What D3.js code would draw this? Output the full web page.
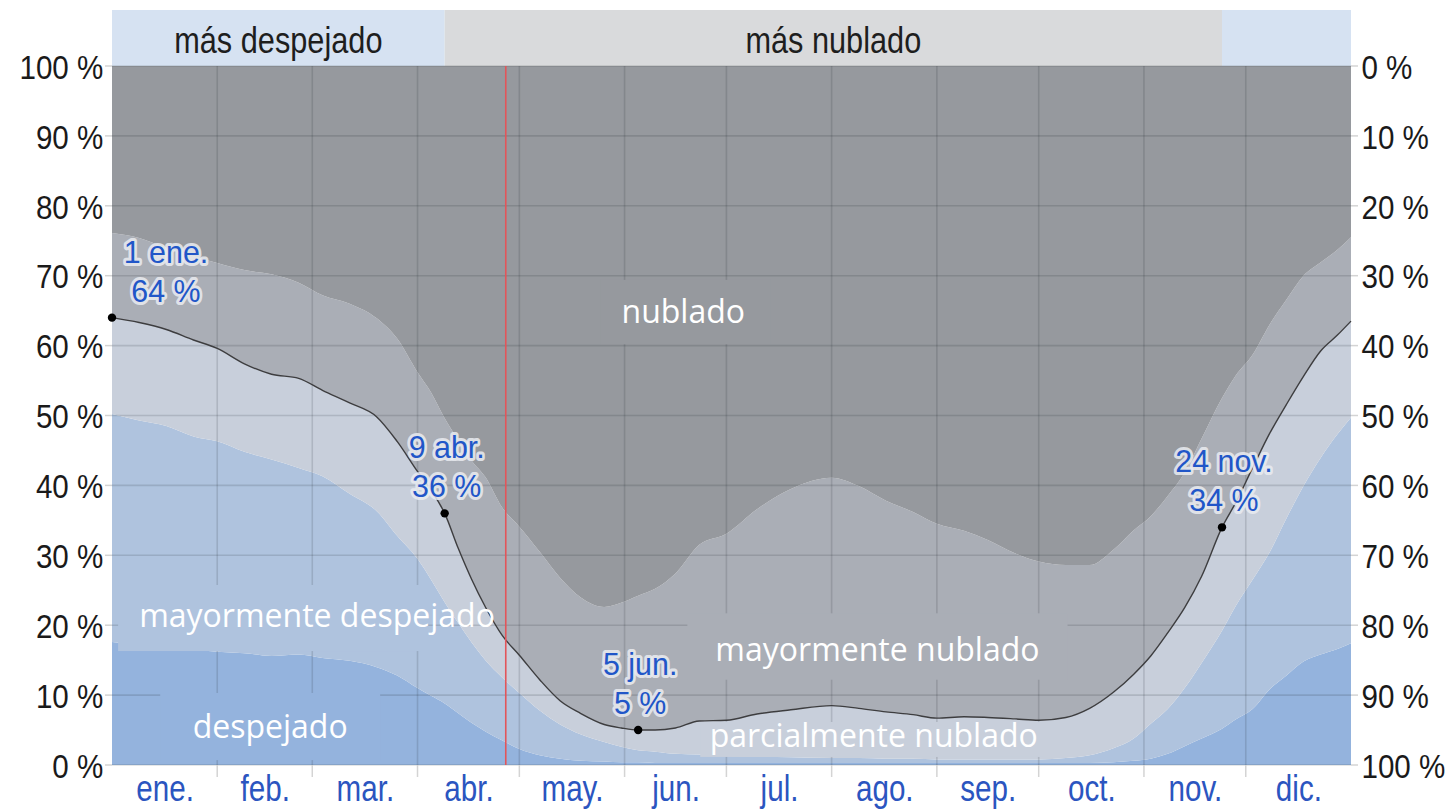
<!DOCTYPE html>
<html lang="es">
<head>
<meta charset="utf-8">
<script src="https://cdn.jsdelivr.net/npm/d3@7"></script>
<style>
  html, body { margin: 0; padding: 0; background: #ffffff; }
  svg { display: block; }
</style>
</head>
<body>
<svg id="chart" width="1451" height="810"></svg>
<script>
// Day of year (0 = 1 Jan, 365 = end of 31 Dec) for each sample
const days = [0, 8, 16, 24, 31, 39, 47, 55, 62, 70,
  78, 84, 90, 94, 98, 102, 106, 110, 115, 120,
  126, 132, 138, 145, 150, 155, 160, 166, 173, 181,
  190, 200, 212, 220, 228, 236, 243, 251, 258, 266,
  273, 281, 288, 295, 301, 306, 311, 316, 321, 327,
  331, 336, 341, 346, 351, 356, 361, 365];

// Cumulative share of time (%) with the sky at most in each category
const despejado = [17.6, 17.2, 16.8, 16.5, 16.2, 16.0, 15.6, 15.8, 15.3, 14.9,
  14.0, 12.8, 11.0, 9.9, 8.8, 7.4, 6.0, 4.8, 3.5, 2.3,
  1.4, 0.9, 0.6, 0.5, 0.4, 0.4, 0.3, 0.3, 0.3, 0.3,
  0.3, 0.3, 0.3, 0.3, 0.3, 0.3, 0.3, 0.3, 0.3, 0.3,
  0.3, 0.3, 0.3, 0.4, 0.6, 0.9, 1.6, 2.7, 3.8, 5.2,
  6.5, 8.0, 10.8, 12.8, 14.8, 15.8, 16.6, 17.4];

const hastaMayormenteDespejado = [50.2, 49.3, 48.5, 47.0, 46.3, 44.8, 43.7, 42.5, 41.3, 38.8,
  36.3, 32.8, 29.5, 26.5, 23.3, 20.3, 17.5, 15.0, 12.5, 10.3,
  7.8, 5.8, 4.4, 3.3, 2.6, 2.1, 1.9, 1.6, 1.5, 1.3,
  1.2, 1.1, 1.0, 1.0, 0.9, 0.9, 0.8, 0.8, 0.8, 0.8,
  0.8, 1.0, 1.4, 2.4, 3.8, 5.9, 8.0, 11.0, 14.6, 19.2,
  22.7, 26.5, 30.4, 35.3, 39.9, 43.9, 47.3, 49.7];

const hastaParcialmenteNublado = [64.0, 63.3, 62.3, 60.8, 59.6, 57.4, 55.9, 55.3, 53.6, 51.8,
  49.8, 46.3, 42.0, 39.3, 36.0, 31.0, 26.5, 22.6, 18.5, 15.7,
  12.2, 9.2, 7.4, 5.8, 5.3, 5.0, 5.0, 5.3, 6.3, 6.4,
  7.3, 7.9, 8.5, 8.1, 7.6, 7.2, 6.7, 6.9, 6.8, 6.6,
  6.4, 6.8, 8.1, 10.4, 13.0, 15.6, 18.9, 22.5, 27.0, 34.0,
  37.5, 42.5, 47.4, 51.6, 55.6, 59.2, 61.5, 63.5];

const hastaMayormenteNublado = [76.1, 75.4, 74.0, 72.8, 71.8, 70.8, 70.2, 69.0, 67.2, 66.0,
  63.9, 61.0, 56.2, 53.3, 49.6, 46.5, 43.5, 41.2, 36.8, 34.1,
  30.5, 26.8, 24.0, 22.6, 23.2, 24.2, 25.2, 27.4, 31.5, 33.1,
  36.6, 39.5, 41.1, 39.9, 37.8, 36.2, 34.5, 33.5, 32.2, 30.3,
  29.1, 28.6, 28.6, 30.8, 33.6, 35.6, 38.5, 41.8, 46.7, 52.5,
  55.7, 58.7, 63.0, 66.6, 70.0, 71.9, 73.7, 75.5];

const monthLabels = ["ene.", "feb.", "mar.", "abr.", "may.", "jun.",
  "jul.", "ago.", "sep.", "oct.", "nov.", "dic."];
const monthStarts = [0, 31, 59, 90, 120, 151, 181, 212, 243, 273, 304, 334, 365];
const yTicks = [0, 10, 20, 30, 40, 50, 60, 70, 80, 90, 100];

const periods = [
  { from: 0, to: 98, label: "más despejado", kind: "clear" },
  { from: 98, to: 327, label: "más nublado", kind: "cloudy" },
  { from: 327, to: 365, label: "", kind: "clear" }
];

const highlightDays = [0, 98, 155, 327];
const highlightNames = ["1 ene.", "9 abr.", "5 jun.", "24 nov."];
const today = 116;

// ---------------------------------------------------------------------------
const svg = d3.select("#chart");
const plot = { left: 112, right: 1351, top: 66, bottom: 765 };

const x = d3.scaleLinear().domain([0, 365]).range([plot.left, plot.right]);
const y = d3.scaleLinear().domain([0, 100]).range([plot.bottom, plot.top]);
const yRight = d3.scaleLinear().domain([100, 0]).range([plot.bottom, plot.top]);

const colors = {
  despejado: "#94b3dd",
  mayormenteDespejado: "#afc3de",
  parcialmenteNublado: "#c8cfdb",
  mayormenteNublado: "#aaaeb6",
  nublado: "#96999e",
  clearBand: "#d6e2f2",
  cloudyBand: "#d9dadc",
  tickText: "#1a1a1a",
  month: "#2b55c0",
  highlight: "#2156c8"
};

const rows = days.map((d, i) => ({
  day: d,
  b0: 0,
  b1: despejado[i],
  b2: hastaMayormenteDespejado[i],
  b3: hastaParcialmenteNublado[i],
  b4: hastaMayormenteNublado[i],
  b5: 100
}));

const bands = [
  { lo: "b0", hi: "b1", fill: colors.despejado },
  { lo: "b1", hi: "b2", fill: colors.mayormenteDespejado },
  { lo: "b2", hi: "b3", fill: colors.parcialmenteNublado },
  { lo: "b3", hi: "b4", fill: colors.mayormenteNublado },
  { lo: "b4", hi: "b5", fill: colors.nublado }
];

const curve = d3.curveMonotoneX;

// Category bands
svg.append("g").selectAll("path")
  .data(bands)
  .join("path")
  .attr("fill", b => b.fill)
  .attr("d", b => d3.area()
    .curve(curve)
    .x(r => x(r.day))
    .y0(r => y(r[b.lo]))
    .y1(r => y(r[b.hi]))(rows));

// Period strip above the plot
const strip = svg.append("g");
strip.selectAll("rect")
  .data(periods)
  .join("rect")
  .attr("x", p => x(p.from))
  .attr("width", p => x(p.to) - x(p.from))
  .attr("y", 10)
  .attr("height", plot.top - 10)
  .attr("fill", p => p.kind === "clear" ? colors.clearBand : colors.cloudyBand);

strip.selectAll("text")
  .data(periods.filter(p => p.label))
  .join("text")
  .attr("transform", p => `translate(${(x(p.from) + x(p.to)) / 2},53) scale(0.83,1)`)
  .attr("text-anchor", "middle")
  .attr("font-family", "'Liberation Sans', Arial, sans-serif")
  .attr("font-size", 37)
  .attr("fill", "#1e1e1e")
  .text(p => p.label);

// Grid lines inside the plot
const grid = svg.append("g").attr("stroke", "rgba(20,25,35,0.14)").attr("stroke-width", 1.6);
grid.selectAll("line.h")
  .data(yTicks)
  .join("line")
  .attr("class", "h")
  .attr("x1", plot.left).attr("x2", plot.right)
  .attr("y1", d => y(d)).attr("y2", d => y(d));
grid.selectAll("line.v")
  .data(monthStarts.slice(1, -1))
  .join("line")
  .attr("class", "v")
  .attr("x1", d => x(d)).attr("x2", d => x(d))
  .attr("y1", plot.top).attr("y2", plot.bottom);

// Category labels with a backing panel in the band colour
const categoryLabels = [
  { text: "nublado", day: 168.3, pct: 63.2, box: [143.9, 194, 69.4, 60.2], fill: colors.nublado },
  { text: "mayormente despejado", day: 60.4, pct: 19.7, box: [1.8, 90.8, 25.75, 16.3], fill: colors.mayormenteDespejado },
  { text: "despejado", day: 46.6, pct: 3.9, box: [14.2, 79, 10.3, 0.7], fill: colors.despejado },
  { text: "mayormente nublado", day: 225.5, pct: 14.9, box: [169.5, 281.5, 21.7, 12.2], fill: colors.mayormenteNublado },
  { text: "parcialmente nublado", day: 224.4, pct: 2.6, box: [173.3, 275, 6.15, 1.15], fill: colors.parcialmenteNublado }
];

svg.append("g").selectAll("rect")
  .data(categoryLabels)
  .join("rect")
  .attr("x", c => x(c.box[0]))
  .attr("width", c => x(c.box[1]) - x(c.box[0]))
  .attr("y", c => y(c.box[2]))
  .attr("height", c => y(c.box[3]) - y(c.box[2]))
  .attr("fill", c => c.fill);

// Tick extensions outside the plot
const ext = svg.append("g").attr("stroke", "#d4d4d4").attr("stroke-width", 1.5);
ext.selectAll("line.l").data(yTicks).join("line").attr("class", "l")
  .attr("x1", plot.left - 7).attr("x2", plot.left).attr("y1", d => y(d)).attr("y2", d => y(d));
ext.selectAll("line.r").data(yTicks).join("line").attr("class", "r")
  .attr("x1", plot.right).attr("x2", plot.right + 7).attr("y1", d => y(d)).attr("y2", d => y(d));
ext.selectAll("line.b").data(monthStarts.slice(1, -1)).join("line").attr("class", "b")
  .attr("x1", d => x(d)).attr("x2", d => x(d)).attr("y1", plot.bottom).attr("y2", plot.bottom + 12);

// Axes
const axisFont = "'Liberation Sans', Arial, sans-serif";
const leftAxis = svg.append("g")
  .attr("transform", `translate(${plot.left},0)`)
  .call(d3.axisLeft(y).tickValues(yTicks).tickSize(0).tickPadding(10).tickFormat(d => d + " %"));
const rightAxis = svg.append("g")
  .attr("transform", `translate(${plot.right},0)`)
  .call(d3.axisRight(yRight).tickValues(yTicks).tickSize(0).tickPadding(12).tickFormat(d => d + " %"));
[leftAxis, rightAxis].forEach(g => {
  g.select(".domain").remove();
  g.selectAll("text")
    .attr("font-family", axisFont)
    .attr("font-size", 34)
    .attr("fill", colors.tickText)
    .attr("dy", "0.36em")
    .attr("transform", "scale(0.87,1)");
});

const monthMids = monthLabels.map((m, i) => (monthStarts[i] + monthStarts[i + 1]) / 2);
const bottomAxis = svg.append("g")
  .attr("transform", `translate(0,${plot.bottom})`)
  .call(d3.axisBottom(x).tickValues(monthMids).tickSize(0).tickPadding(10)
    .tickFormat((d, i) => monthLabels[i]));
bottomAxis.select(".domain").remove();
bottomAxis.selectAll("text")
  .attr("font-family", axisFont)
  .attr("font-size", 37)
  .attr("fill", colors.month)
  .attr("x", 0)
  .attr("transform", "scale(0.8,1)");

// Clear-or-partly-cloudy boundary line
svg.append("path")
  .datum(rows)
  .attr("fill", "none")
  .attr("stroke", "#3d3d3f")
  .attr("stroke-width", 1.4)
  .attr("d", d3.line().curve(curve).x(r => x(r.day)).y(r => y(r.b3)));

// Current date marker
svg.append("line")
  .attr("x1", x(today)).attr("x2", x(today))
  .attr("y1", plot.top).attr("y2", plot.bottom)
  .attr("stroke", "#e2555a")
  .attr("stroke-width", 1.6);

// Highlighted days on the boundary line
const highlights = highlightDays.map((d, i) => {
  const idx = days.indexOf(d);
  return { day: d, name: highlightNames[i], value: hastaParcialmenteNublado[idx] };
});

svg.append("g").selectAll("circle")
  .data(highlights)
  .join("circle")
  .attr("cx", h => x(h.day))
  .attr("cy", h => y(h.value))
  .attr("r", 4.2)
  .attr("fill", "#000");

const hl = svg.append("g").selectAll("g")
  .data(highlights)
  .join("g")
  .attr("transform", h => {
    const cx = h.day === 0 ? x(h.day) + 54 : x(h.day) + 2;
    return `translate(${cx},${y(h.value)})`;
  });

function haloText(sel, dy, textFn) {
  sel.append("text")
    .attr("transform", `translate(0,${dy}) scale(0.95,1)`)
    .attr("text-anchor", "middle")
    .attr("font-family", axisFont)
    .attr("font-size", 32)
    .attr("fill", colors.highlight)
    .attr("stroke", "rgba(234,236,241,0.85)")
    .attr("stroke-width", 6)
    .attr("stroke-linejoin", "round")
    .attr("paint-order", "stroke")
    .text(textFn);
}
haloText(hl, -55, h => h.name);
haloText(hl, -16, h => Math.round(h.value) + " %");

// Category names
svg.append("g").selectAll("text")
  .data(categoryLabels)
  .join("text")
  .attr("x", c => x(c.day))
  .attr("y", c => y(c.pct))
  .attr("text-anchor", "middle")
  .attr("font-family", "'Open Sans', 'Noto Sans', sans-serif")
  .attr("font-size", 32)
  .attr("fill", "#ffffff")
  .text(c => c.text);
</script>
</body>
</html>
